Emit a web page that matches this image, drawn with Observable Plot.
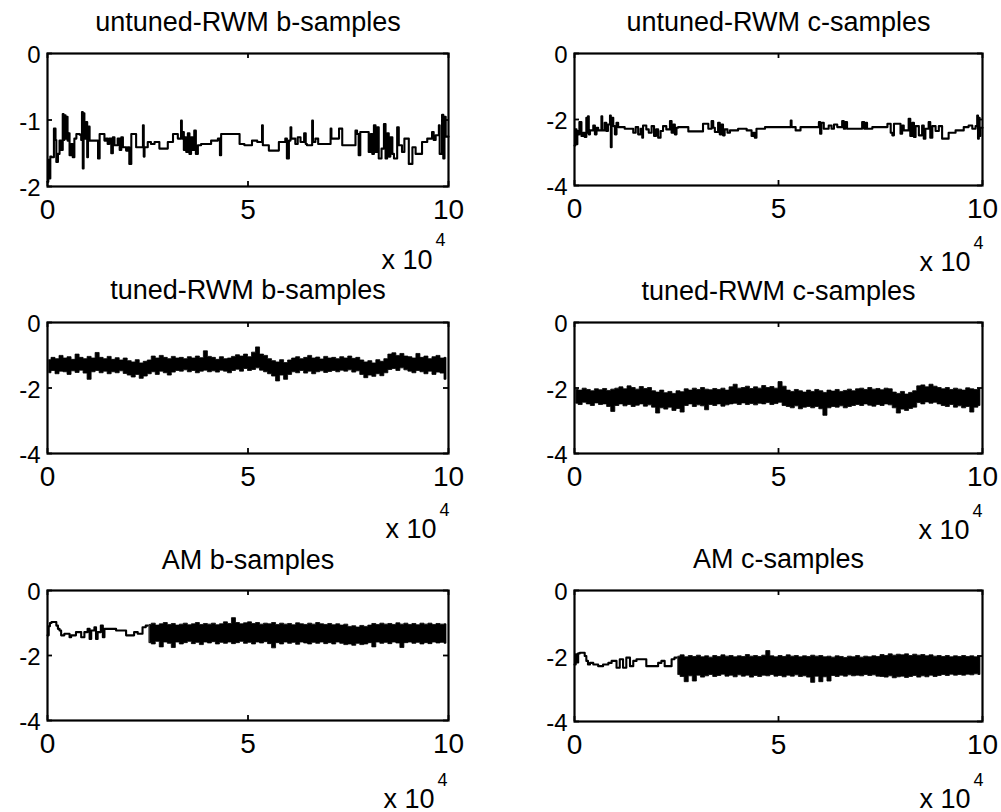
<!DOCTYPE html>
<html><head><meta charset="utf-8">
<script src="https://cdn.jsdelivr.net/npm/d3@7"></script>
<script src="https://cdn.jsdelivr.net/npm/@observablehq/plot@0.6"></script>
<style>
html,body{margin:0;padding:0;background:#fff;}
#chart{position:relative;width:1001px;height:812px;overflow:hidden;background:#fff;}
#chart > svg{position:absolute;max-width:none;}
</style></head><body><div id="chart"></div>
<script>
// ---- ticks & labels ----
const xTicks = [0, 5, 10];
const yTicksUntunedB = [0, -1, -2];
const yTicksOther = [0, -2, -4];
const titles = ["untuned-RWM b-samples", "untuned-RWM c-samples", "tuned-RWM b-samples", "tuned-RWM c-samples", "AM b-samples", "AM c-samples"];
const xExponentBase = "x 10";
const xExponent = "4";

// ---- untuned RWM b: step trace [iteration x1e4, value] ----
const untunedB = [[0,-1.93],[0.02,-1.60],[0.05,-1.88],[0.07,-1.55],[0.10,-1.56],[0.16,-1.13],[0.20,-1.30],[0.22,-1.63],[0.26,-1.51],[0.30,-1.31],[0.34,-1.45],[0.38,-0.91],[0.40,-1.30],[0.42,-0.93],[0.45,-1.28],[0.47,-0.95],[0.50,-1.31],[0.53,-1.20],[0.55,-1.53],[0.59,-1.36],[0.63,-1.56],[0.67,-1.28],[0.72,-1.21],[0.80,-1.22],[0.84,-1.30],[0.86,-0.88],[0.88,-1.73],[0.90,-0.90],[0.92,-1.28],[0.96,-1.03],[0.99,-1.56],[1.01,-1.10],[1.05,-1.31],[1.26,-1.58],[1.30,-1.21],[1.42,-1.31],[1.46,-1.28],[1.50,-1.36],[1.54,-1.28],[1.59,-1.50],[1.63,-1.26],[1.67,-1.38],[1.75,-1.28],[1.80,-1.45],[1.84,-1.26],[1.88,-1.41],[1.96,-1.46],[2.00,-1.41],[2.04,-1.66],[2.09,-1.21],[2.21,-1.41],[2.38,-1.08],[2.40,-1.55],[2.42,-1.41],[2.50,-1.33],[2.58,-1.36],[2.67,-1.33],[2.79,-1.43],[3.00,-1.33],[3.13,-1.21],[3.25,-1.28],[3.33,-1.01],[3.35,-1.28],[3.37,-1.18],[3.40,-1.45],[3.43,-1.26],[3.46,-1.48],[3.50,-1.20],[3.54,-1.51],[3.58,-1.26],[3.62,-1.45],[3.66,-1.16],[3.70,-1.51],[3.75,-1.38],[3.83,-1.36],[4.08,-1.31],[4.25,-1.28],[4.30,-1.53],[4.33,-1.21],[4.79,-1.36],[4.91,-1.38],[5.10,-1.31],[5.23,-1.33],[5.35,-1.08],[5.37,-1.38],[5.52,-1.46],[5.77,-1.33],[5.93,-1.28],[5.97,-1.58],[6.02,-1.31],[6.06,-1.11],[6.08,-1.28],[6.18,-1.36],[6.24,-1.26],[6.31,-1.33],[6.40,-1.20],[6.44,-1.36],[6.47,-1.38],[6.60,-1.01],[6.62,-1.33],[6.68,-1.28],[6.75,-1.36],[7.06,-1.13],[7.08,-1.28],[7.27,-1.13],[7.35,-1.38],[7.68,-1.16],[7.72,-1.21],[7.76,-1.53],[7.80,-1.18],[8.01,-1.48],[8.06,-1.21],[8.10,-1.51],[8.14,-1.08],[8.18,-1.48],[8.22,-1.11],[8.26,-1.58],[8.33,-1.43],[8.39,-1.06],[8.43,-1.58],[8.47,-1.20],[8.51,-1.55],[8.55,-1.26],[8.60,-1.51],[8.64,-1.58],[8.72,-1.11],[8.76,-1.38],[8.84,-1.48],[8.90,-1.28],[9.01,-1.66],[9.10,-1.41],[9.18,-1.51],[9.34,-1.33],[9.47,-1.28],[9.59,-1.18],[9.63,-1.30],[9.68,-1.23],[9.76,-1.08],[9.78,-1.51],[9.84,-0.92],[9.87,-1.58],[9.90,-0.95],[9.93,-1.25],[10,-1.25]];

// ---- untuned RWM c: step trace ----
const untunedC = [[0,-2.79],[0.02,-2.30],[0.05,-2.75],[0.07,-2.35],[0.09,-2.45],[0.12,-2.08],[0.17,-2.50],[0.21,-2.40],[0.25,-2.53],[0.29,-1.95],[0.31,-2.40],[0.33,-1.90],[0.35,-2.45],[0.38,-2.33],[0.46,-2.18],[0.50,-2.45],[0.54,-2.25],[0.58,-2.33],[0.66,-1.90],[0.68,-2.33],[0.74,-2.10],[0.78,-2.35],[0.82,-2.15],[0.87,-1.88],[0.89,-2.84],[0.91,-1.95],[0.95,-2.20],[0.99,-2.45],[1.03,-2.10],[1.07,-2.23],[1.23,-2.28],[1.44,-2.40],[1.50,-2.23],[1.56,-2.45],[1.62,-2.28],[1.66,-2.55],[1.68,-2.18],[1.76,-2.30],[1.82,-2.40],[1.89,-2.20],[1.95,-2.50],[2.00,-2.30],[2.05,-2.55],[2.11,-2.35],[2.17,-2.20],[2.25,-2.30],[2.34,-2.05],[2.38,-2.40],[2.42,-2.15],[2.46,-2.45],[2.50,-2.25],[2.54,-2.23],[2.79,-2.36],[3.15,-2.13],[3.28,-2.28],[3.36,-2.05],[3.40,-2.25],[3.44,-2.38],[3.52,-2.10],[3.56,-2.45],[3.60,-2.15],[3.64,-2.48],[3.68,-2.30],[3.75,-2.40],[3.81,-2.33],[4.01,-2.28],[4.22,-2.33],[4.34,-2.50],[4.38,-2.40],[4.42,-2.55],[4.46,-2.28],[4.67,-2.23],[5.25,-2.23],[5.30,-2.03],[5.32,-2.23],[5.42,-2.33],[5.54,-2.23],[5.99,-2.08],[6.02,-2.43],[6.05,-2.10],[6.11,-2.28],[6.23,-2.18],[6.30,-2.28],[6.36,-2.15],[6.44,-2.23],[6.56,-2.05],[6.60,-2.28],[6.64,-2.08],[6.68,-2.28],[7.05,-2.08],[7.10,-2.28],[7.14,-2.10],[7.17,-2.28],[7.30,-2.23],[7.67,-2.13],[7.75,-2.40],[7.79,-2.48],[7.83,-2.13],[7.99,-2.43],[8.03,-2.18],[8.07,-2.33],[8.19,-1.98],[8.23,-2.50],[8.28,-2.10],[8.32,-2.53],[8.36,-2.20],[8.44,-2.48],[8.52,-2.18],[8.56,-2.58],[8.60,-2.28],[8.68,-2.08],[8.72,-2.55],[8.77,-2.20],[8.85,-2.35],[8.93,-2.20],[9.01,-2.58],[9.17,-2.40],[9.34,-2.33],[9.54,-2.23],[9.66,-2.18],[9.75,-2.28],[9.83,-2.20],[9.87,-1.88],[9.89,-2.58],[9.91,-1.95],[9.93,-2.50],[9.95,-2.25],[10,-2.25]];

// ---- tuned RWM b: dense trace, per 0.1e4 bin upper / lower envelope ----
const tunedBHi = [-1.15,-1.08,-1.12,-1.02,-1.10,-1.06,-1.14,-0.98,-1.08,-1.12,-1.05,-1.10,-0.93,-1.08,-1.12,-1.05,-1.14,-1.09,-1.16,-1.10,-1.18,-1.22,-1.15,-1.25,-1.20,-1.16,-1.04,-1.10,-1.02,-1.08,-1.12,-1.05,-1.10,-1.08,-1.12,-1.06,-1.10,-1.04,-1.09,-0.88,-1.05,-1.08,-1.14,-1.06,-1.12,-1.10,-1.05,-1.00,-1.04,-0.98,-1.06,-0.92,-0.76,-0.98,-1.02,-1.12,-1.18,-1.22,-1.15,-1.24,-1.16,-1.10,-1.06,-1.12,-1.08,-1.02,-1.10,-1.07,-1.13,-1.05,-1.10,-1.08,-1.12,-1.06,-1.10,-1.04,-1.11,-1.08,-1.16,-1.22,-1.18,-1.25,-1.15,-1.20,-1.12,-0.98,-0.94,-1.02,-0.96,-1.04,-1.06,-1.10,-0.96,-1.08,-1.04,-1.12,-1.06,-1.02,-1.10,-1.08];
const tunedBLo = [-1.55,-1.48,-1.58,-1.50,-1.52,-1.60,-1.49,-1.54,-1.47,-1.56,-1.75,-1.52,-1.48,-1.55,-1.50,-1.58,-1.52,-1.55,-1.49,-1.57,-1.62,-1.68,-1.60,-1.72,-1.65,-1.58,-1.52,-1.60,-1.50,-1.55,-1.62,-1.53,-1.48,-1.50,-1.46,-1.52,-1.48,-1.55,-1.50,-1.47,-1.52,-1.49,-1.53,-1.47,-1.50,-1.55,-1.48,-1.44,-1.50,-1.42,-1.48,-1.45,-1.40,-1.47,-1.52,-1.58,-1.65,-1.80,-1.62,-1.75,-1.60,-1.52,-1.55,-1.48,-1.56,-1.50,-1.58,-1.52,-1.49,-1.54,-1.51,-1.48,-1.52,-1.47,-1.50,-1.46,-1.53,-1.49,-1.60,-1.70,-1.62,-1.66,-1.58,-1.64,-1.55,-1.45,-1.42,-1.48,-1.40,-1.46,-1.50,-1.55,-1.48,-1.52,-1.58,-1.50,-1.60,-1.53,-1.56,-1.75];

// ---- tuned RWM c ----
const tunedCHi = [-2.05,-2.08,-2.02,-2.06,-2.10,-2.04,-2.07,-2.03,-2.09,-2.05,-2.02,-1.98,-2.04,-1.95,-2.00,-2.05,-1.97,-2.03,-2.00,-2.10,-2.14,-2.08,-2.16,-2.12,-2.18,-2.10,-2.13,-2.04,-2.08,-2.02,-2.06,-2.00,-2.05,-2.07,-2.03,-2.06,-2.02,-2.08,-1.98,-1.90,-2.02,-2.00,-1.96,-2.03,-1.98,-2.02,-1.94,-2.00,-1.97,-2.02,-1.82,-1.96,-2.08,-2.12,-2.06,-2.10,-2.14,-2.08,-2.12,-2.06,-2.10,-2.15,-2.08,-2.11,-2.06,-2.12,-2.09,-2.05,-2.10,-2.04,-2.02,-2.06,-2.00,-2.05,-2.03,-2.07,-2.02,-2.04,-2.14,-2.18,-2.12,-2.20,-2.15,-2.10,-1.95,-1.92,-1.98,-1.90,-1.96,-2.00,-2.04,-2.00,-2.06,-2.02,-2.05,-2.08,-2.01,-2.04,-2.06,-2.03];
const tunedCLo = [-2.48,-2.52,-2.45,-2.50,-2.55,-2.47,-2.52,-2.50,-2.58,-2.73,-2.55,-2.50,-2.56,-2.52,-2.58,-2.54,-2.50,-2.57,-2.53,-2.60,-2.78,-2.62,-2.66,-2.60,-2.70,-2.64,-2.75,-2.55,-2.50,-2.58,-2.53,-2.56,-2.68,-2.52,-2.55,-2.50,-2.57,-2.53,-2.50,-2.48,-2.52,-2.47,-2.52,-2.49,-2.53,-2.48,-2.50,-2.46,-2.52,-2.49,-2.45,-2.55,-2.58,-2.62,-2.56,-2.65,-2.60,-2.58,-2.62,-2.58,-2.65,-2.85,-2.62,-2.58,-2.60,-2.56,-2.62,-2.58,-2.55,-2.52,-2.55,-2.50,-2.54,-2.57,-2.52,-2.55,-2.50,-2.53,-2.62,-2.78,-2.66,-2.70,-2.64,-2.60,-2.46,-2.50,-2.44,-2.48,-2.45,-2.50,-2.55,-2.58,-2.52,-2.60,-2.56,-2.62,-2.58,-2.75,-2.60,-2.55];

// ---- AM b: step trace before adaptation, then dense envelope (bins of 0.1e4 from 2.5e4) ----
const amBStep = [[0,-1.38],[0.03,-1.10],[0.06,-1.00],[0.10,-0.97],[0.22,-1.08],[0.26,-1.18],[0.30,-1.23],[0.34,-1.38],[0.42,-1.33],[0.55,-1.44],[0.59,-1.38],[0.71,-1.28],[0.84,-1.44],[0.92,-1.28],[1.00,-1.18],[1.05,-1.49],[1.09,-1.23],[1.17,-1.13],[1.21,-1.49],[1.25,-1.28],[1.33,-1.08],[1.38,-1.44],[1.42,-1.18],[1.50,-1.18],[1.71,-1.23],[1.96,-1.38],[2.16,-1.28],[2.25,-1.33],[2.37,-1.13],[2.45,-1.08],[2.50,-1.08]];
const amBHi = [-1.06,-1.02,-1.08,-1.04,-1.00,-1.06,-1.03,-1.08,-1.05,-1.02,-1.07,-1.04,-1.00,-1.06,-1.03,-1.05,-1.02,-1.07,-1.04,-0.98,-1.03,-0.85,-1.00,-1.04,-1.01,-0.98,-1.03,-1.00,-1.05,-1.02,-1.04,-1.00,-1.06,-1.02,-1.05,-1.03,-1.07,-1.01,-1.04,-1.06,-1.02,-1.05,-1.00,-1.04,-1.06,-1.03,-1.07,-1.04,-1.08,-1.05,-1.12,-1.10,-1.14,-1.09,-1.12,-1.08,-1.03,-1.06,-1.02,-1.05,-1.03,-1.06,-1.01,-1.05,-1.02,-1.06,-1.03,-1.07,-1.02,-1.05,-1.02,-1.06,-1.03,-1.05,-1.04];
const amBLo = [-1.62,-1.66,-1.58,-1.75,-1.60,-1.64,-1.77,-1.60,-1.66,-1.62,-1.58,-1.65,-1.61,-1.68,-1.60,-1.63,-1.59,-1.66,-1.61,-1.64,-1.60,-1.65,-1.62,-1.58,-1.64,-1.61,-1.66,-1.60,-1.63,-1.59,-1.65,-1.78,-1.62,-1.66,-1.60,-1.64,-1.61,-1.67,-1.60,-1.63,-1.66,-1.61,-1.64,-1.60,-1.65,-1.62,-1.66,-1.60,-1.64,-1.68,-1.66,-1.70,-1.64,-1.68,-1.66,-1.62,-1.75,-1.60,-1.64,-1.61,-1.65,-1.60,-1.63,-1.77,-1.62,-1.60,-1.64,-1.61,-1.66,-1.62,-1.65,-1.60,-1.63,-1.61,-1.64];

// ---- AM c ----
const amCStep = [[0,-2.26],[0.03,-1.95],[0.06,-2.20],[0.09,-1.92],[0.13,-1.90],[0.25,-2.00],[0.29,-2.15],[0.33,-2.26],[0.38,-2.21],[0.46,-2.26],[0.58,-2.31],[0.70,-2.26],[0.83,-2.21],[0.91,-2.15],[1.03,-2.36],[1.11,-2.10],[1.19,-2.36],[1.27,-2.05],[1.36,-2.31],[1.44,-2.15],[1.52,-2.10],[1.76,-2.31],[2.05,-2.21],[2.13,-2.15],[2.21,-2.31],[2.38,-2.10],[2.45,-2.05],[2.50,-2.05]];
const amCHi = [-2.02,-1.98,-2.04,-2.00,-2.03,-1.99,-2.04,-2.01,-2.05,-2.00,-2.03,-1.98,-2.02,-2.00,-2.04,-2.01,-2.03,-1.97,-2.02,-2.00,-2.03,-1.99,-1.85,-2.01,-2.04,-2.00,-2.03,-1.98,-2.02,-2.00,-2.04,-2.01,-2.03,-1.99,-2.02,-2.00,-2.04,-2.02,-2.05,-2.01,-2.03,-2.06,-2.02,-2.04,-2.00,-2.05,-2.02,-2.04,-2.01,-2.03,-1.97,-2.00,-1.95,-1.99,-1.96,-1.98,-1.95,-2.00,-1.96,-1.99,-1.97,-2.01,-1.98,-2.02,-2.00,-2.03,-2.00,-2.04,-2.01,-2.03,-2.00,-2.03,-2.01,-2.04,-2.02];
const amCLo = [-2.58,-2.64,-2.80,-2.62,-2.78,-2.60,-2.66,-2.62,-2.58,-2.64,-2.61,-2.57,-2.63,-2.60,-2.65,-2.59,-2.63,-2.60,-2.66,-2.61,-2.64,-2.60,-2.62,-2.58,-2.63,-2.61,-2.65,-2.60,-2.63,-2.59,-2.64,-2.62,-2.66,-2.82,-2.63,-2.80,-2.65,-2.78,-2.61,-2.64,-2.60,-2.63,-2.59,-2.62,-2.60,-2.62,-2.58,-2.61,-2.59,-2.63,-2.64,-2.66,-2.62,-2.68,-2.65,-2.63,-2.67,-2.64,-2.61,-2.66,-2.62,-2.65,-2.60,-2.64,-2.61,-2.58,-2.61,-2.57,-2.60,-2.58,-2.60,-2.57,-2.59,-2.56,-2.58];

// ---- helpers ----
const FONT = "Arial, 'Liberation Sans', Helvetica, sans-serif";
const stepRows = arr => arr.map(([x, v]) => ({x, v}));
const bandRows = (start, hi, lo) => hi.map((h, i) => ({x: start + 0.05 + 0.1 * i, hi: h, lo: lo[i]}));
const stepLine = rows => Plot.line(rows, {x: "x", y: "v", curve: "step-after", stroke: "black", strokeWidth: 2.1});
const band = rows => Plot.areaY(rows, {x: "x", y1: "lo", y2: "hi", curve: "step", fill: "black", stroke: "black", strokeWidth: 0.8});

function panel(cfg) {
  const {left, top, width, height, mt, mb, ml, mr, yDomain, yTicks, title, marks, tdy, xe} = cfg;
  const yMin = yDomain[0], yMax = yDomain[1];
  const svg = Plot.plot({
    width, height, marginTop: mt, marginBottom: mb, marginLeft: ml, marginRight: mr,
    x: {domain: [0, 10], axis: null},
    y: {domain: yDomain, axis: null},
    style: {fontFamily: FONT, background: "transparent", overflow: "visible", color: "black"},
    marks: [
      ...marks,
      Plot.frame({stroke: "black", strokeWidth: 2.2}),
      Plot.ruleX(xTicks, {x: d => d, y1: yMax, y2: yMax, insetBottom: -5, stroke: "black", strokeWidth: 1.8}),
      Plot.ruleX(xTicks, {x: d => d, y1: yMin, y2: yMin, insetTop: -5, stroke: "black", strokeWidth: 1.8}),
      Plot.ruleY(yTicks, {y: d => d, x1: 0, x2: 0, insetRight: -5, stroke: "black", strokeWidth: 1.8}),
      Plot.ruleY(yTicks, {y: d => d, x1: 10, x2: 10, insetLeft: -5, stroke: "black", strokeWidth: 1.8}),
      Plot.text(xTicks, {x: d => d, y: yMin, text: d => String(d), dy: 24, fontSize: 28, lineAnchor: "middle", fill: "black"}),
      Plot.text(yTicks, {x: 0, y: d => d, text: d => String(d), dx: -7, dy: 2, textAnchor: "end", lineAnchor: "middle", fontSize: 24, fill: "black"}),
      Plot.text([title], {frameAnchor: "top", text: d => d, dy: tdy, lineAnchor: "bottom", fontSize: 27, fill: "black"}),
      Plot.text([xExponentBase], {frameAnchor: "bottom-right", text: d => d, dx: xe[0], dy: xe[1], textAnchor: "end", lineAnchor: "bottom", fontSize: 27, fill: "black"}),
      Plot.text([xExponent], {frameAnchor: "bottom-right", text: d => d, dx: xe[2], dy: xe[3], textAnchor: "start", lineAnchor: "bottom", fontSize: 18, fill: "black"})
    ]
  });
  svg.style.left = left + "px";
  svg.style.top = top + "px";
  document.getElementById("chart").append(svg);
}

panel({left: 0, top: 0, width: 500, height: 270, mt: 53, mb: 84, ml: 47, mr: 52,
  yDomain: [-2, 0], yTicks: yTicksUntunedB, title: titles[0], tdy: -23, xe: [-16, 82, -13, 59],
  marks: [stepLine(stepRows(untunedB))]});
panel({left: 500, top: 0, width: 501, height: 270, mt: 53, mb: 85, ml: 74, mr: 19,
  yDomain: [-4, 0], yTicks: yTicksOther, title: titles[1], tdy: -23, xe: [-12, 85, -9, 63],
  marks: [stepLine(stepRows(untunedC))]});
panel({left: 0, top: 270, width: 500, height: 270, mt: 52, mb: 87, ml: 47, mr: 52,
  yDomain: [-4, 0], yTicks: yTicksOther, title: titles[2], tdy: -24, xe: [-12, 84, -9, 62],
  marks: [band(bandRows(0, tunedBHi, tunedBLo))]});
panel({left: 500, top: 270, width: 501, height: 270, mt: 52, mb: 87, ml: 74, mr: 19,
  yDomain: [-4, 0], yTicks: yTicksOther, title: titles[3], tdy: -23, xe: [-13, 85, -10, 63],
  marks: [band(bandRows(0, tunedCHi, tunedCLo))]});
panel({left: 0, top: 540, width: 500, height: 272, mt: 50, mb: 92, ml: 47, mr: 52,
  yDomain: [-4, 0], yTicks: yTicksOther, title: titles[4], tdy: -22, xe: [-14, 87, -11, 65],
  marks: [stepLine(stepRows(amBStep)), band(bandRows(2.5, amBHi, amBLo))]});
panel({left: 500, top: 540, width: 501, height: 272, mt: 50, mb: 91, ml: 74, mr: 19,
  yDomain: [-4, 0], yTicks: yTicksOther, title: titles[5], tdy: -23, xe: [-12, 86, -9, 64],
  marks: [stepLine(stepRows(amCStep)), band(bandRows(2.5, amCHi, amCLo))]});
</script></body></html>
